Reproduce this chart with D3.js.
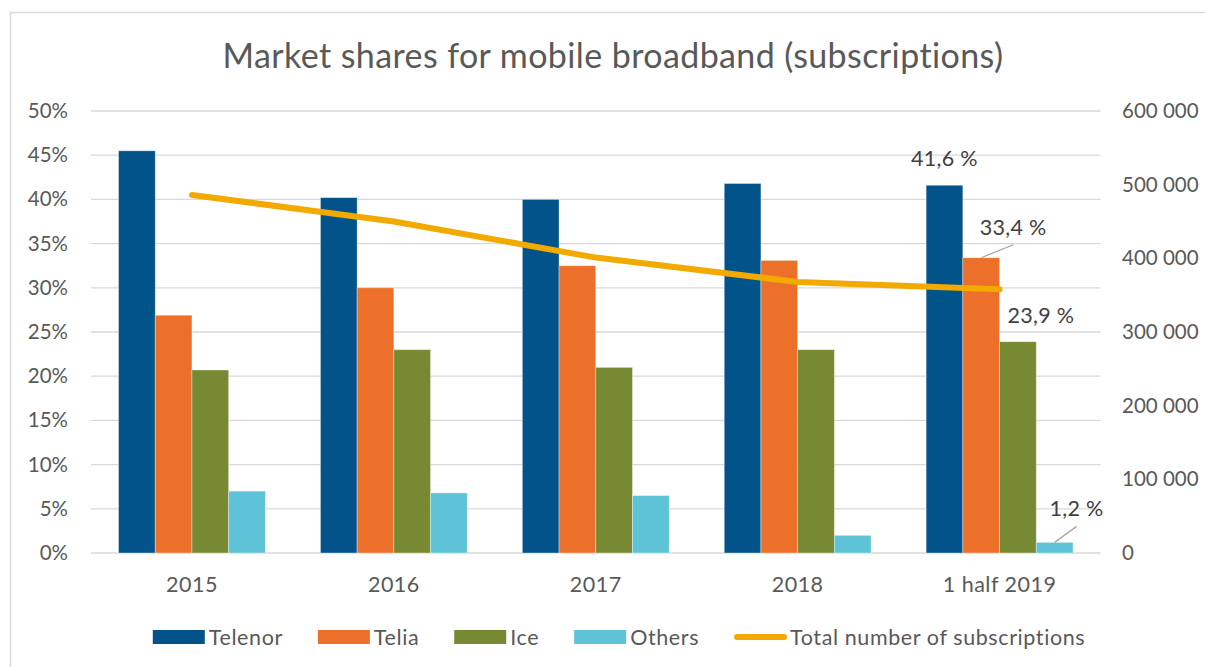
<!DOCTYPE html>
<html>
<head>
<meta charset="utf-8">
<script src="https://cdn.jsdelivr.net/npm/d3@7"></script>
<style>
  body { margin: 0; background: #fff; }
  text { font-family: Lato, "Open Sans", sans-serif; }
</style>
</head>
<body>
<div id="chart"></div>
<script>
// data
let categories = ["2015", "2016", "2017", "2018", "1 half 2019"];
let series = ["Telenor", "Telia", "Ice", "Others"];
let telenor = [45.5, 40.2, 40.0, 41.8, 41.6];
let telia = [26.9, 30.0, 32.5, 33.1, 33.4];
let ice = [20.7, 23.0, 21.0, 23.0, 23.9];
let others = [7.0, 6.8, 6.5, 2.0, 1.2];
let totalSubs = [486000, 450000, 401000, 368000, 358000];
let lineName = "Total number of subscriptions";
let leftTicks = [0, 5, 10, 15, 20, 25, 30, 35, 40, 45, 50];
let rightTicks = [0, 100000, 200000, 300000, 400000, 500000, 600000];

let values = [telenor, telia, ice, others];
let colors = ["#02538a", "#ec7029", "#788934", "#5fc3d7"];
let lineColor = "#f2a900";

let width = 1205, height = 667;
let plotLeft = 91, plotRight = 1100.5, plotTop = 111, plotBottom = 553;

let svg = d3.select("#chart")
    .append("svg")
    .attr("width", width)
    .attr("height", height);

// chart area border
svg.append("rect")
    .attr("x", 10.5).attr("y", 12.5)
    .attr("width", 1220).attr("height", 700)
    .attr("fill", "white")
    .attr("stroke", "#d9d9d9")
    .attr("stroke-width", 1.5);

svg.append("text")
    .attr("x", 613).attr("y", 68)
    .attr("text-anchor", "middle")
    .style("font-size", "34px")
    .style("letter-spacing", "0.4px")
    .attr("fill", "#595959")
    .text("Market shares for mobile broadband (subscriptions)");

let x0 = d3.scaleBand().domain(categories).range([plotLeft, plotRight]).padding(0);
let x1 = d3.scaleBand().domain(series).range([0, x0.bandwidth()]).paddingInner(0).paddingOuter(0.75);
let yL = d3.scaleLinear().domain([0, 50]).range([plotBottom, plotTop]);
let yR = d3.scaleLinear().domain([0, 600000]).range([plotBottom, plotTop]);

// gridlines
svg.append("g")
    .selectAll("line")
    .data(leftTicks)
    .enter()
    .append("line")
    .attr("x1", plotLeft).attr("x2", plotRight)
    .attr("y1", d => yL(d)).attr("y2", d => yL(d))
    .attr("stroke", "#d9d9d9")
    .attr("stroke-width", 1.3);

let pct = d => d + "%";
let spaceFmt = d3.formatLocale({ decimal: ",", thousands: " ", grouping: [3], currency: ["", ""] }).format(",");

let axisL = svg.append("g")
    .attr("transform", "translate(" + plotLeft + ",0)")
    .call(d3.axisLeft(yL).tickValues(leftTicks).tickFormat(pct).tickSize(0).tickPadding(23));
let axisR = svg.append("g")
    .attr("transform", "translate(" + plotRight + ",0)")
    .call(d3.axisRight(yR).tickValues(rightTicks).tickFormat(spaceFmt).tickSize(0).tickPadding(21.5));
let axisB = svg.append("g")
    .attr("transform", "translate(0," + plotBottom + ")")
    .call(d3.axisBottom(x0).tickSize(0));

[axisL, axisR, axisB].forEach(function(a) {
    a.select(".domain").remove();
    a.selectAll("text")
        .attr("fill", "#595959")
        .style("font-size", "20.5px")
        .style("font-family", "Lato, 'Open Sans', sans-serif");
});
axisB.selectAll("text")
    .attr("y", 39).attr("dy", 0)
    .style("font-size", "21.5px")
    .style("letter-spacing", "0.5px");

// bars
let groups = svg.append("g")
    .selectAll("g")
    .data(categories)
    .enter()
    .append("g")
    .attr("transform", d => "translate(" + x0(d) + ",0)");

groups.selectAll("rect")
    .data((c, i) => series.map((s, j) => ({ s: s, v: values[j][i], j: j })))
    .enter()
    .append("rect")
    .attr("x", d => x1(d.s))
    .attr("width", x1.bandwidth())
    .attr("y", d => yL(d.v))
    .attr("height", d => yL(0) - yL(d.v))
    .attr("fill", d => colors[d.j])
    .attr("stroke", "rgba(255,255,255,0.45)")
    .attr("stroke-width", 0.8);

// total subscriptions line
let line = d3.line()
    .x((d, i) => x0(categories[i]) + x0.bandwidth() / 2)
    .y(d => yR(d));

svg.append("path")
    .datum(totalSubs)
    .attr("d", line)
    .attr("fill", "none")
    .attr("stroke", lineColor)
    .attr("stroke-width", 6)
    .attr("stroke-linecap", "round")
    .attr("stroke-linejoin", "round");

// data labels on the last group
let last = categories.length - 1;
let labelOffsets = [[0, -19, false], [32, -23, true], [23, -19, false], [22, -26, true]];
let fmtLabel = v => v.toFixed(1).replace(".", ",") + " %";
series.forEach(function(s, j) {
    let v = values[j][last];
    let cx = x0(categories[last]) + x1(s) + x1.bandwidth() / 2;
    let cy = yL(v);
    let off = labelOffsets[j];
    if (off[2]) {
        svg.append("line")
            .attr("x1", cx).attr("y1", cy)
            .attr("x2", cx + off[0]).attr("y2", cy + off[1] + 10)
            .attr("stroke", "#a6a6a6")
            .attr("stroke-width", 1.3);
    }
    svg.append("text")
        .attr("x", cx + off[0])
        .attr("y", cy + off[1])
        .attr("text-anchor", "middle")
        .attr("fill", "#404040")
        .style("font-size", "21.5px")
        .style("letter-spacing", "0.3px")
        .text(fmtLabel(v));
});

// legend
let legendItems = series.map((s, j) => ({ name: s, color: colors[j], line: false }))
    .concat([{ name: lineName, color: lineColor, line: true }]);
let legend = svg.append("g");
let lx = 0;
legendItems.forEach(function(d) {
    let g = legend.append("g").attr("transform", "translate(" + lx + ",0)");
    if (d.line) {
        g.append("line")
            .attr("x1", 3).attr("x2", 50)
            .attr("y1", 637).attr("y2", 637)
            .attr("stroke", d.color)
            .attr("stroke-width", 6)
            .attr("stroke-linecap", "round");
    } else {
        g.append("rect")
            .attr("x", 0).attr("y", 630)
            .attr("width", 52).attr("height", 14)
            .attr("fill", d.color);
    }
    let t = g.append("text")
        .attr("x", 56).attr("y", 645)
        .attr("fill", "#595959")
        .style("font-size", "21.5px")
        .style("letter-spacing", "0.6px")
        .text(d.name);
    lx += 56 + t.node().getComputedTextLength() + 35;
});
let legendW = lx - 35;
legend.attr("transform", "translate(" + (619 - legendW / 2) + ",0)");
</script>
</body>
</html>
